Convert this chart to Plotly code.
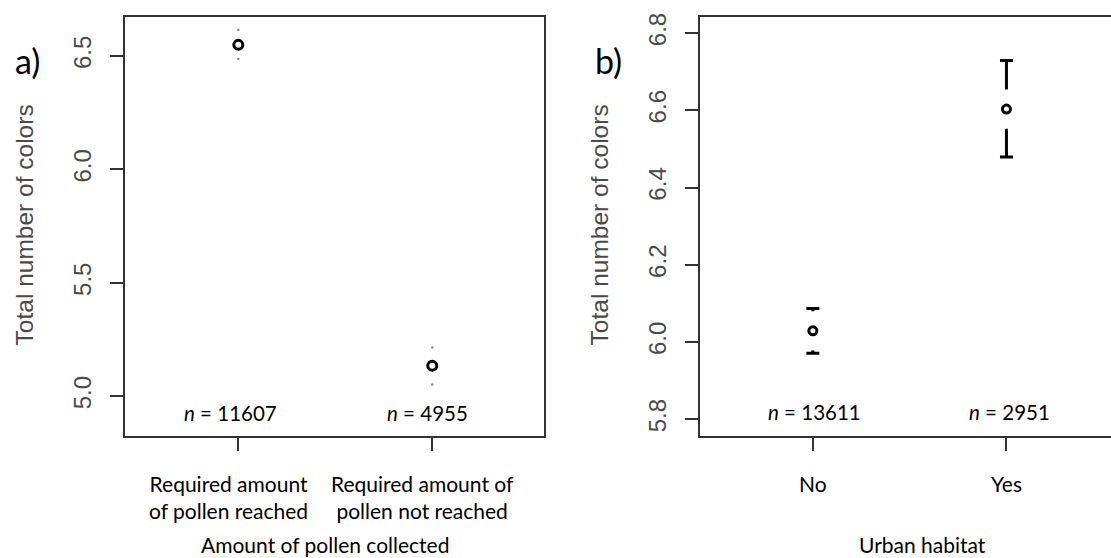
import plotly.graph_objects as go

# ---------------- data ----------------
pos = [1, 2]

cats_a = ["Required amount<br>of pollen reached", "Required amount of<br>pollen not reached"]
mean_a = [6.549, 5.134]
lo_a = [6.487, 5.051]
hi_a = [6.615, 5.215]
n_a = [11607, 4955]
yticks_a = [5.0, 5.5, 6.0, 6.5]

cats_b = ["No", "Yes"]
mean_b = [6.029, 6.603]
lo_b = [5.971, 6.479]
hi_b = [6.087, 6.729]
n_b = [13611, 2951]
yticks_b = [5.8, 6.0, 6.2, 6.4, 6.6, 6.8]

xtitle_a = "Amount of pollen collected"
xtitle_b = "Urban habitat"
ytitle = "Total number of colors"
panel_labels = ["a)", "b)"]

# ---------------- figure ----------------
W, H = 1111, 558
fig = go.Figure()

def px_x(p):
    return p / W

def px_y(p):
    return 1 - p / H

# Panel a: CI ends as faint dots
fig.add_trace(go.Scatter(
    x=pos + pos, y=lo_a + hi_a, mode="markers",
    marker=dict(symbol="circle", size=2.5, color="#8a8a8a"),
    xaxis="x", yaxis="y", hoverinfo="skip"))
fig.add_trace(go.Scatter(
    x=pos, y=mean_a, mode="markers",
    marker=dict(symbol="circle-open", size=9, color="black", line=dict(width=3)),
    xaxis="x", yaxis="y"))

# Panel b: error bars with a gap around the point
fig.add_trace(go.Scatter(
    x=pos, y=mean_b, mode="markers",
    marker=dict(size=2, color="rgba(0,0,0,0)"),
    error_y=dict(type="data", symmetric=False,
                 array=[h - m for h, m in zip(hi_b, mean_b)],
                 arrayminus=[m - l for m, l in zip(mean_b, lo_b)],
                 color="black", thickness=3, width=6.5),
    xaxis="x2", yaxis="y2", hoverinfo="skip"))
fig.add_trace(go.Scatter(
    x=pos, y=mean_b, mode="markers",
    marker=dict(symbol="line-ns", size=28, color="white", line=dict(color="white", width=8)),
    xaxis="x2", yaxis="y2", hoverinfo="skip"))
fig.add_trace(go.Scatter(
    x=pos, y=mean_b, mode="markers",
    marker=dict(symbol="circle-open", size=8, color="black", line=dict(width=3)),
    xaxis="x2", yaxis="y2"))

axis_col = "#333333"
tick_font = dict(family="Liberation Sans, Arial, sans-serif", size=24, color="#4a4a4a")
ydom = [px_y(435), px_y(13.3)]

common_x = dict(tickvals=pos, showticklabels=False, ticks="outside", ticklen=13,
                tickwidth=2, tickcolor=axis_col, showline=True, linecolor=axis_col,
                linewidth=2, mirror=True, showgrid=False, zeroline=False, fixedrange=True)
common_y = dict(ticks="outside", ticklen=13, tickwidth=2, tickcolor=axis_col,
                showline=True, linecolor=axis_col, linewidth=2, showgrid=False,
                zeroline=False, tickangle=-90, tickfont=tick_font, ticklabelstandoff=9)

fig.update_layout(
    width=W, height=H,
    margin=dict(l=0, r=0, t=0, b=0),
    paper_bgcolor="white", plot_bgcolor="white",
    showlegend=False,
    xaxis=dict(domain=[px_x(125), px_x(544)], range=[0.416, 2.576], anchor="y", **common_x),
    yaxis=dict(domain=ydom, range=[4.825, 6.671], anchor="x", mirror=True,
               tickvals=yticks_a, ticktext=[f"{v:.1f}" for v in yticks_a], **common_y),
    xaxis2=dict(domain=[px_x(700), 1.0], range=[0.417, 2.540], anchor="y2", **common_x),
    yaxis2=dict(domain=ydom, range=[5.757, 6.841], anchor="x2", mirror=False,
                tickvals=yticks_b, ticktext=[f"{v:.1f}" for v in yticks_b], **common_y),
)

txt_font = "Lato, Noto Sans, sans-serif"
ann = []
# y axis titles
for xc in (24, 599):
    ann.append(dict(text=ytitle, x=px_x(xc), y=px_y(223), xref="paper", yref="paper",
                    showarrow=False, textangle=-90, xanchor="center", yanchor="middle",
                    font=dict(family="Liberation Sans, Arial, sans-serif", size=24.5, color="#4a4a4a")))
# panel letters
for lab, xc in zip(panel_labels, (27, 608)):
    ann.append(dict(text=lab, x=px_x(xc), y=px_y(57), xref="paper", yref="paper",
                    showarrow=False, xanchor="center", yanchor="middle",
                    font=dict(family=txt_font, size=34, color="black")))
# n labels
for xi, nv, sh in zip(pos, n_a, (-8, -5)):
    ann.append(dict(text=f"<i>n</i> = {nv}", x=xi, y=px_y(412), xref="x", yref="paper",
                    showarrow=False, xanchor="center", yanchor="middle", xshift=sh,
                    font=dict(family=txt_font, size=20.5, color="black")))
for xi, nv, sh in zip(pos, n_b, (2, 3)):
    ann.append(dict(text=f"<i>n</i> = {nv}", x=xi, y=px_y(411), xref="x2", yref="paper",
                    showarrow=False, xanchor="center", yanchor="middle", xshift=sh,
                    font=dict(family=txt_font, size=20.5, color="black")))
# category labels
for xi, c in zip(pos, cats_a):
    ann.append(dict(text=c, x=xi, y=px_y(497), xref="x", yref="paper",
                    showarrow=False, xanchor="center", yanchor="middle", xshift=-10,
                    font=dict(family=txt_font, size=21, color="black")))
for xi, c in zip(pos, cats_b):
    ann.append(dict(text=c, x=xi, y=px_y(483), xref="x2", yref="paper",
                    showarrow=False, xanchor="center", yanchor="middle",
                    font=dict(family=txt_font, size=21, color="black")))
# x titles (bottom-anchored so they stay inside the page)
ann.append(dict(text=xtitle_a, x=px_x(325), y=0, xref="paper", yref="paper",
                showarrow=False, xanchor="center", yanchor="bottom", borderpad=0,
                font=dict(family=txt_font, size=21, color="black")))
ann.append(dict(text=xtitle_b, x=px_x(922), y=0, xref="paper", yref="paper",
                showarrow=False, xanchor="center", yanchor="bottom", borderpad=0,
                font=dict(family=txt_font, size=21, color="black")))

fig.update_layout(annotations=ann)
fig.write_html("out.html", config={"displayModeBar": False},
               post_script="document.body.style.margin='0px';")
